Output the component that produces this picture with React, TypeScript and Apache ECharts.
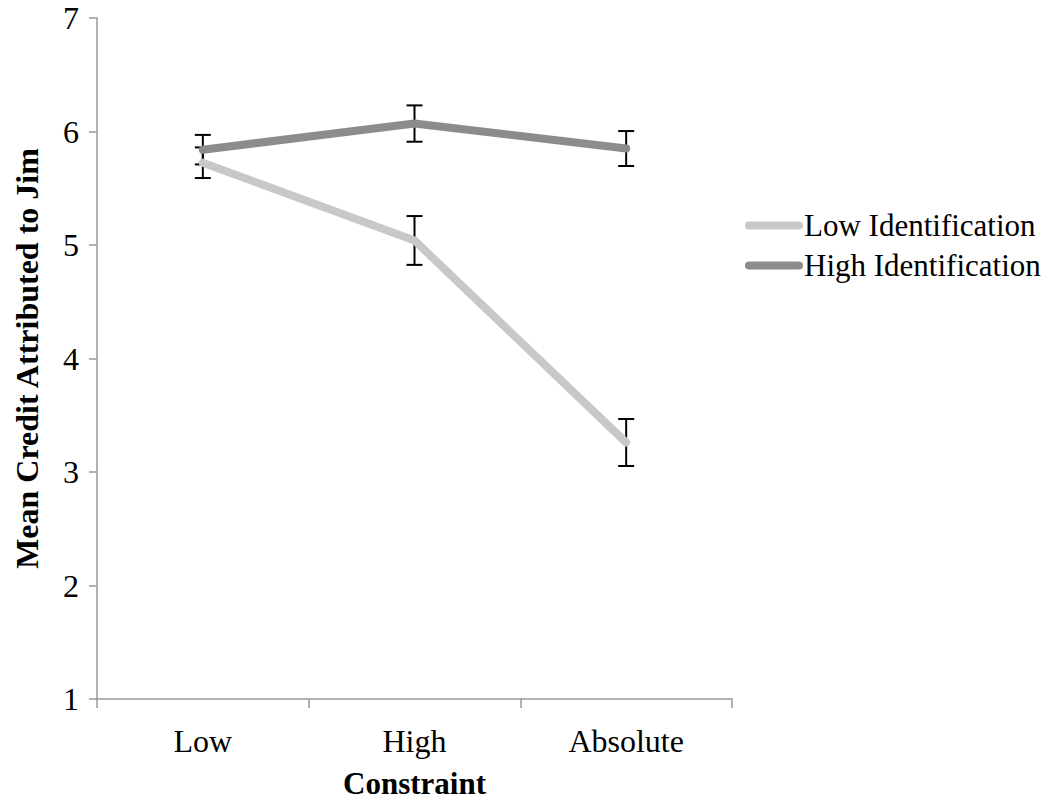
import React, { useEffect, useRef } from "react";
import * as echarts from "echarts";

const categories = ["Low", "High", "Absolute"];
const lowIdentification = [5.725, 5.04, 3.26];
const lowIdentificationErr = [0.135, 0.215, 0.207];
const highIdentification = [5.84, 6.07, 5.85];
const highIdentificationErr = [0.13, 0.16, 0.154];
const yTicks = [1, 2, 3, 4, 5, 6, 7];

const FONT = "'Liberation Serif', 'Times New Roman', serif";
const LOW_COLOR = "#c8c8c8";
const HIGH_COLOR = "#8c8c8c";

function errorData(means: number[], errs: number[]) {
  return means.map((m, i) => [i, m - errs[i], m + errs[i]]);
}

function renderError(params: any, api: any) {
  const i = api.value(0);
  const lo = api.coord([i, api.value(1)]);
  const hi = api.coord([i, api.value(2)]);
  const half = 8;
  const style = { stroke: "#000", lineWidth: 2 };
  return {
    type: "group",
    children: [
      { type: "line", shape: { x1: lo[0], y1: lo[1], x2: hi[0], y2: hi[1] }, style },
      { type: "line", shape: { x1: hi[0] - half, y1: hi[1], x2: hi[0] + half, y2: hi[1] }, style },
      { type: "line", shape: { x1: lo[0] - half, y1: lo[1], x2: lo[0] + half, y2: lo[1] }, style },
    ],
  };
}

const legendIcon = "path://M4,0 L54,0 A4,4 0 0 1 54,8 L4,8 A4,4 0 0 1 4,0 Z";

export default function App() {
  const ref = useRef<HTMLDivElement>(null);
  useEffect(() => {
    document.body.style.margin = "0";
    if (!ref.current) return;
    const chart = echarts.init(ref.current, undefined, { renderer: "svg" });
    chart.setOption({
      animation: false,
      backgroundColor: "#fff",
      textStyle: { fontFamily: FONT },
      grid: { left: 97, right: 328, top: 18, bottom: 111, containLabel: false },
      legend: {
        orient: "vertical",
        left: 745,
        top: 210,
        padding: 0,
        itemGap: 9,
        itemWidth: 58,
        itemHeight: 8,
        textStyle: { fontFamily: FONT, fontSize: 31, color: "#000", padding: [0, 0, 0, -4] },
        data: [
          { name: "Low Identification", icon: legendIcon, itemStyle: { color: LOW_COLOR } },
          { name: "High Identification", icon: legendIcon, itemStyle: { color: HIGH_COLOR } },
        ],
      },
      xAxis: {
        type: "category",
        data: categories,
        boundaryGap: true,
        name: "Constraint",
        nameLocation: "middle",
        nameGap: 69,
        nameTextStyle: { fontFamily: FONT, fontSize: 31, fontWeight: "bold", color: "#000" },
        axisLine: { lineStyle: { color: "#999", width: 1.5 } },
        axisTick: { show: true, length: 9, lineStyle: { color: "#999", width: 1.5 } },
        axisLabel: { fontFamily: FONT, fontSize: 32, color: "#000", margin: 26 },
        splitLine: { show: false },
      },
      yAxis: {
        type: "value",
        min: yTicks[0],
        max: yTicks[yTicks.length - 1],
        interval: 1,
        name: "Mean Credit Attributed to Jim",
        nameLocation: "middle",
        nameGap: 54,
        nameTextStyle: { fontFamily: FONT, fontSize: 32, fontWeight: "bold", color: "#000" },
        axisLine: { show: true, lineStyle: { color: "#999", width: 1.5 } },
        axisTick: { show: true, length: 8, lineStyle: { color: "#999", width: 1.5 } },
        axisLabel: { fontFamily: FONT, fontSize: 32, color: "#000", margin: 18 },
        splitLine: { show: false },
      },
      series: [
        {
          name: "Low Identification err",
          type: "custom",
          renderItem: renderError,
          data: errorData(lowIdentification, lowIdentificationErr),
          encode: { x: 0, y: [1, 2] },
          z: 1,
          silent: true,
        },
        {
          name: "High Identification err",
          type: "custom",
          renderItem: renderError,
          data: errorData(highIdentification, highIdentificationErr),
          encode: { x: 0, y: [1, 2] },
          z: 1,
          silent: true,
        },
        {
          name: "Low Identification",
          type: "line",
          data: lowIdentification,
          showSymbol: false,
          symbol: "none",
          color: LOW_COLOR,
          lineStyle: { color: LOW_COLOR, width: 8, cap: "round", join: "round" },
          z: 3,
        },
        {
          name: "High Identification",
          type: "line",
          data: highIdentification,
          showSymbol: false,
          symbol: "none",
          color: HIGH_COLOR,
          lineStyle: { color: HIGH_COLOR, width: 8, cap: "round", join: "round" },
          z: 4,
        },
      ],
    });
    return () => chart.dispose();
  }, []);
  return <div ref={ref} style={{ width: 1060, height: 810 }} />;
}
